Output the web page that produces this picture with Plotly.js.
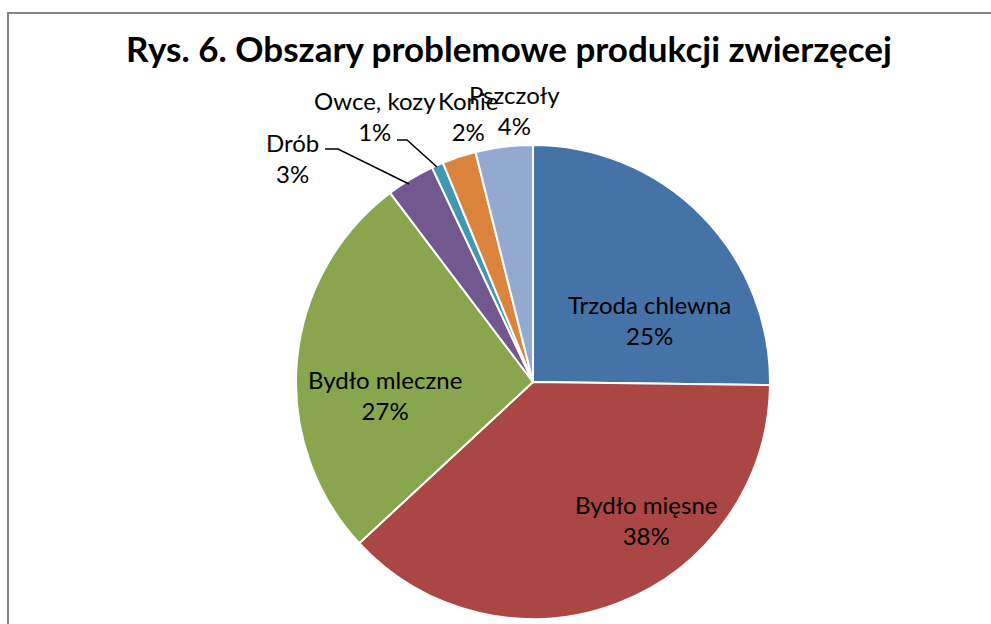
<!DOCTYPE html>
<html>
<head>
<meta charset="utf-8">
<script src="https://cdn.plot.ly/plotly-3.0.1.min.js"></script>
<style>html,body{margin:0;padding:0;background:#fff;}#chart{width:991px;height:624px;}</style>
</head>
<body>
<div id="chart"></div>
<script>
const categories = ["Trzoda chlewna", "Bydło mięsne", "Bydło mleczne", "Drób", "Owce, kozy", "Konie", "Pszczoły"];
const values = [25.2, 37.9, 26.6, 3.3, 0.8, 2.3, 3.9];
const colors = ["#4572A7", "#AA4643", "#89A54E", "#71588F", "#4198AF", "#DB843D", "#93A9CF"];
const titleText = "Rys. 6. Obszary problemowe produkcji zwierzęcej";

const FONT = "Lato, 'Open Sans', sans-serif";
const W = 991, H = 624;
const M = {l: 296, r: 221, t: 145, b: 5};
const PW = W - M.l - M.r, PH = H - M.t - M.b;
const px = x => (x - M.l) / PW;
const py = y => (H - M.b - y) / PH;

const trace = {
  type: 'pie',
  labels: categories,
  values: values,
  sort: false,
  direction: 'clockwise',
  rotation: 0,
  marker: {colors: colors, line: {color: '#ffffff', width: 2}},
  textinfo: 'none',
  textposition: 'none',
  hoverinfo: 'label+percent',
  showlegend: false
};

// data label placement (pixel centres of each two-line label)
const labelPos = [
  {x: 649, y: 320},
  {x: 646, y: 520},
  {x: 385, y: 395},
  {x: 292, y: 158},
  {x: 375, y: 116},
  {x: 468, y: 116},
  {x: 514, y: 110}
];
const total = values.reduce((a, b) => a + b, 0);
const annotations = categories.map((c, i) => ({
  xref: 'paper', yref: 'paper', x: px(labelPos[i].x), y: py(labelPos[i].y),
  xanchor: 'center', yanchor: 'middle', showarrow: false, align: 'center',
  text: c + '<br>' + Math.round(values[i] / total * 100) + '%',
  font: {family: FONT, size: 24, color: '#000000'}
}));

const path = pts => 'M ' + pts.map(p => px(p[0]) + ' ' + py(p[1])).join(' L ');
const shapes = [
  {type: 'path', xref: 'paper', yref: 'paper', path: path([[325, 149], [338, 149], [409, 184]]), line: {color: '#000', width: 1.5}},
  {type: 'path', xref: 'paper', yref: 'paper', path: path([[397, 140], [407, 140], [437, 167]]), line: {color: '#000', width: 1.5}},
  {type: 'path', xref: 'paper', yref: 'paper', path: path([[8, 640], [8, 13], [1000, 13]]), line: {color: '#868686', width: 2}}
];

const layout = {
  width: W, height: H,
  margin: M,
  paper_bgcolor: '#ffffff',
  title: {text: '<b>' + titleText + '</b>', x: 509 / W, xref: 'container', xanchor: 'center',
          y: 1 - 50 / H, yref: 'container', yanchor: 'middle',
          font: {family: FONT, size: 35, color: '#000000'}},
  annotations: annotations,
  shapes: shapes
};

Plotly.newPlot('chart', [trace], layout, {displayModeBar: false, staticPlot: true});
</script>
</body>
</html>
